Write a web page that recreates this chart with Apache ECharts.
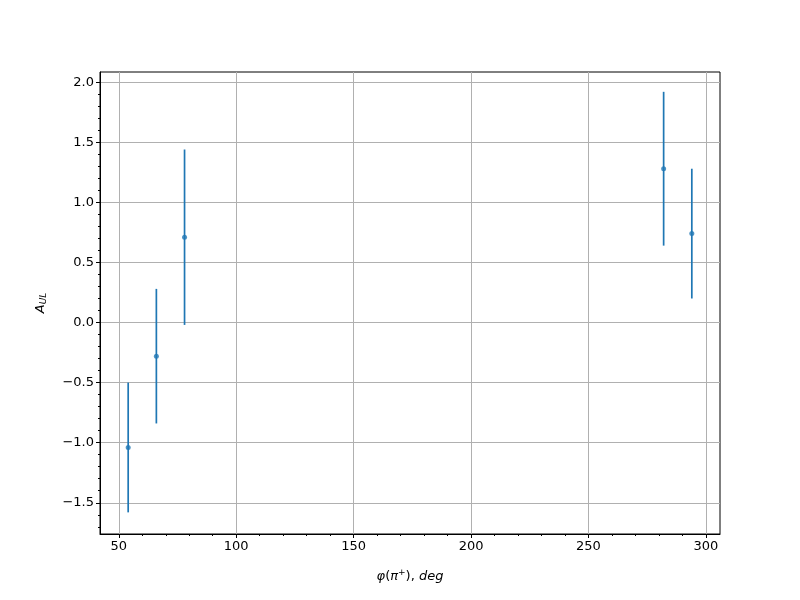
<!DOCTYPE html>
<html><head><meta charset="utf-8">
<script src="https://cdn.jsdelivr.net/npm/echarts@6/dist/echarts.min.js"></script>
<style>html,body{margin:0;padding:0;background:#fff}#c{width:800px;height:600px}</style>
</head><body><div id="c"></div>
<script>
const phi = [54, 66, 78, 282, 294];
const aul = [-1.04, -0.28, 0.71, 1.28, 0.74];
const errLo = [-1.58, -0.84, -0.02, 0.64, 0.20];
const errHi = [-0.50, 0.28, 1.44, 1.92, 1.28];
const xTicks = [50, 100, 150, 200, 250, 300];
const yTicks = [-1.5, -1.0, -0.5, 0.0, 0.5, 1.0, 1.5, 2.0];
const xMinor = [];
for (let v = 50; v <= 300; v += 10) if (v % 50 !== 0) xMinor.push(v);
const yMinor = [];
for (let i = -17; i <= 20; i++) if (i % 5 !== 0) yMinor.push(i / 10);

const X_MIN = 42, X_MAX = 306, Y_MIN = -1.76, Y_MAX = 2.085;
const FONT = 'DejaVu Sans';
const BLUE = '#1f77b4';

const chart = echarts.init(document.getElementById('c'), null, {renderer: 'canvas'});
const baseX = {type: 'value', min: X_MIN, max: X_MAX, position: 'bottom'};
const baseY = {type: 'value', min: Y_MIN, max: Y_MAX, position: 'left'};
chart.setOption({
  animation: false,
  backgroundColor: '#fff',
  grid: {left: 100, right: 80, top: 72, bottom: 66, show: true, borderColor: '#000', borderWidth: 1, backgroundColor: 'transparent'},
  xAxis: [
    Object.assign({}, baseX, {
      axisLine: {show: true, onZero: false, lineStyle: {color: '#000', width: 1}},
      axisTick: {show: true, length: 4, inside: false, customValues: xTicks, lineStyle: {color: '#000', width: 1}},
      axisLabel: {show: true, customValues: xTicks, color: '#000', fontFamily: FONT, fontSize: 13, margin: 6},
      splitLine: {show: true, lineStyle: {color: '#b0b0b0', width: 1}},
      name: '{i|φ}{n|(}{i|π}{s|+}{n|),}{i| deg}',
      nameLocation: 'middle', nameGap: 34,
      nameTextStyle: {color: '#000', fontFamily: FONT, fontSize: 13,
        rich: {i: {fontStyle: 'italic', fontFamily: FONT, fontSize: 13, color: '#000'},
               n: {fontFamily: FONT, fontSize: 13, color: '#000'},
               s: {fontFamily: FONT, fontSize: 9, color: '#000', verticalAlign: 'top', padding: [0, 0, 8, 0]}}}
    }),
    Object.assign({}, baseX, {
      axisLine: {show: false, onZero: false},
      axisTick: {show: true, length: 2, customValues: xMinor, lineStyle: {color: '#000', width: 1}},
      axisLabel: {show: false},
      splitLine: {show: false}
    })
  ],
  yAxis: [
    Object.assign({}, baseY, {
      axisLine: {show: true, onZero: false, lineStyle: {color: '#000', width: 1}},
      axisTick: {show: true, length: 4, customValues: yTicks, lineStyle: {color: '#000', width: 1}},
      axisLabel: {show: true, customValues: yTicks, color: '#000', fontFamily: FONT, fontSize: 13, margin: 6,
        formatter: v => v.toFixed(1).replace('-', '\u2212')},
      splitLine: {show: true, lineStyle: {color: '#b0b0b0', width: 1}},
      name: '{a|A}{s|UL}',
      nameLocation: 'middle', nameGap: 52, nameRotate: 90,
      nameTextStyle: {rich: {a: {fontStyle: 'italic', fontFamily: FONT, fontSize: 13, color: '#000'},
                             s: {fontStyle: 'italic', fontFamily: FONT, fontSize: 9, color: '#000', verticalAlign: 'bottom', padding: [6, 0, 0, 0]}}}
    }),
    Object.assign({}, baseY, {
      axisLine: {show: false, onZero: false},
      axisTick: {show: true, length: 2, customValues: yMinor, lineStyle: {color: '#000', width: 1}},
      axisLabel: {show: false},
      splitLine: {show: false}
    })
  ],
  series: [
    {
      type: 'custom',
      xAxisIndex: 0, yAxisIndex: 0,
      data: phi.map((x, i) => [x, errLo[i], errHi[i]]),
      encode: {x: 0, y: [1, 2]},
      renderItem: function (params, api) {
        const p1 = api.coord([api.value(0), api.value(1)]);
        const p2 = api.coord([api.value(0), api.value(2)]);
        return {type: 'line', shape: {x1: p1[0], y1: p1[1], x2: p2[0], y2: p2[1]},
                style: {stroke: BLUE, lineWidth: 1.7}};
      },
      z: 3
    },
    {
      type: 'scatter',
      xAxisIndex: 0, yAxisIndex: 0,
      data: phi.map((x, i) => [x, aul[i]]),
      symbol: 'circle', symbolSize: 5,
      itemStyle: {color: BLUE},
      z: 4
    }
  ]
});
</script></body></html>
